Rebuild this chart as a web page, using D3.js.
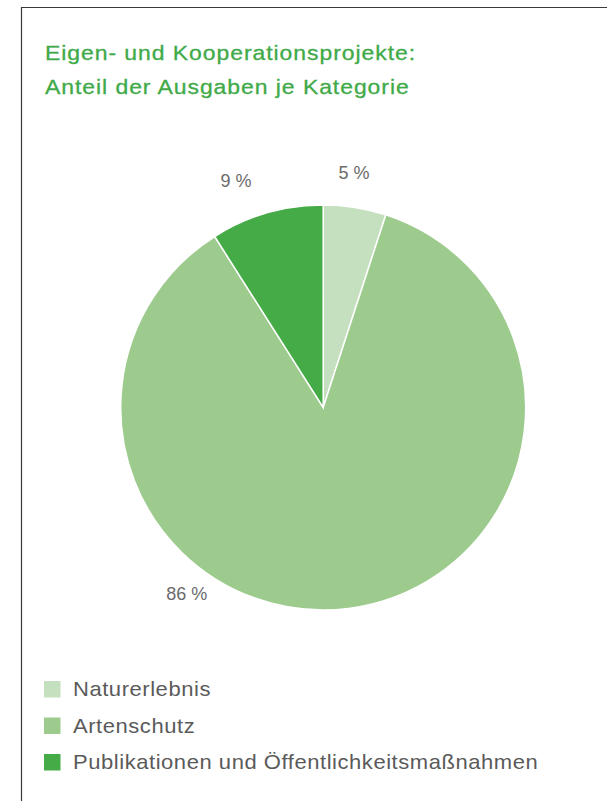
<!DOCTYPE html>
<html>
<head>
<meta charset="utf-8">
<script src="https://cdn.jsdelivr.net/npm/d3@7"></script>
<style>
  html, body { margin: 0; padding: 0; background: #fff; }
  svg { display: block; }
</style>
</head>
<body>
<svg id="chart" width="607" height="801"></svg>
<script>
// ---- data ----
const categories = ["Naturerlebnis", "Artenschutz", "Publikationen und Öffentlichkeitsmaßnahmen"];
const values = [5, 86, 9];
const valueLabels = ["5 %", "86 %", "9 %"];
const titleLines = ["Eigen- und Kooperationsprojekte:", "Anteil der Ausgaben je Kategorie"];

// ---- layout / style ----
const colors = ["#c5e0bf", "#9dcb8e", "#45ab46"];
const W = 607, H = 801;
const cx = 323.2, cy = 407.5, R = 202.5;
// label placement per slice: angle (deg, clockwise from top) and radius
const labelAngles = [7.5, 216.2, -21];
const labelRadii = [236.5, 231, 243];
const FONT = "Liberation Sans, Arial, Helvetica, sans-serif";

const svg = d3.select("#chart");

// frame
svg.append("path")
  .attr("d", `M21.5,${H} L21.5,7.5 L${W},7.5`)
  .attr("fill", "none")
  .attr("stroke", "#3a3a3a")
  .attr("stroke-width", 1.2);

// title
svg.selectAll("text.title")
  .data(titleLines)
  .enter().append("text")
  .attr("class", "title")
  .attr("transform", (d, i) => `translate(45,${59.5 + i * 34}) scale(1.12,1)`)
  .attr("font-family", FONT)
  .attr("font-size", 20.5)
  .attr("letter-spacing", 0.85)
  .attr("fill", "#40aa48")
  .attr("stroke", "#40aa48")
  .attr("stroke-width", 0.3)
  .text(d => d);

// pie
const pie = d3.pie().sort(null).value(d => d)(values);
const arc = d3.arc().innerRadius(0).outerRadius(R);
const g = svg.append("g").attr("transform", `translate(${cx},${cy})`);
g.selectAll("path")
  .data(pie)
  .enter().append("path")
  .attr("d", arc)
  .attr("fill", (d, i) => colors[i])
  .attr("stroke", "#fff")
  .attr("stroke-width", 1.5);

// value labels
g.selectAll("text.val")
  .data(pie)
  .enter().append("text")
  .attr("class", "val")
  .attr("x", (d, i) => labelRadii[i] * Math.sin(labelAngles[i] * Math.PI / 180))
  .attr("y", (d, i) => -labelRadii[i] * Math.cos(labelAngles[i] * Math.PI / 180))
  .attr("text-anchor", "middle")
  .attr("dominant-baseline", "central")
  .attr("font-family", FONT)
  .attr("font-size", 18)
  .attr("fill", "#6b6b6b")
  .text((d, i) => valueLabels[i]);

// legend
const leg = svg.append("g").attr("transform", "translate(44,681)");
const rows = leg.selectAll("g")
  .data(categories)
  .enter().append("g")
  .attr("transform", (d, i) => `translate(0,${i * 36.5})`);
rows.append("rect")
  .attr("width", 16.5).attr("height", 16.5)
  .attr("fill", (d, i) => colors[i]);
rows.append("text")
  .attr("transform", "translate(29,8) scale(1.1,1)")
  .attr("dominant-baseline", "central")
  .attr("font-family", FONT)
  .attr("font-size", 20)
  .attr("letter-spacing", 0.5)
  .attr("fill", "#5a5a5a")
  .text(d => d);
</script>
</body>
</html>
